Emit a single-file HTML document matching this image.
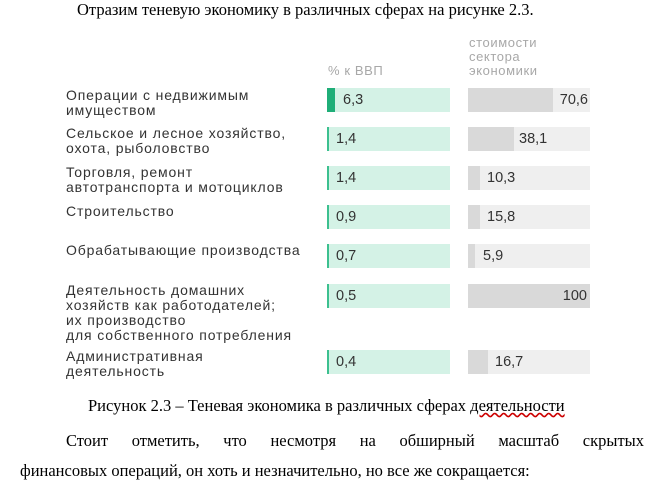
<!DOCTYPE html>
<html><head><meta charset="utf-8"><style>
body{margin:0;width:666px;height:479px;background:#fff;position:relative;overflow:hidden;font-family:"Liberation Sans",sans-serif}
.a{position:absolute}
.t{font-family:"Liberation Serif",serif;font-size:16.5px;color:#000;white-space:nowrap}
.lbl{position:absolute;left:66px;font-size:14px;line-height:15px;color:#333;letter-spacing:0.85px;white-space:nowrap}
.g{position:absolute;left:327px;width:123px;height:24px;background:#d4f2e6}
.g i{position:absolute;left:0;top:0;bottom:0;width:2px;background:#3cc08f}
.g span,.r span{position:absolute;top:4px;font-size:14.5px;color:#333}
.r{position:absolute;left:468px;width:122px;height:24px;background:#efefef}
.r b{position:absolute;left:0;top:0;bottom:0;background:#d9d9d9}
.h{position:absolute;font-size:13px;color:#a8a8a8;line-height:14px;letter-spacing:0.6px}
</style></head><body>
<div class="a t" style="left:77px;top:0px">Отразим теневую экономику в различных сферах на рисунке 2.3.</div>
<div class="h" style="left:328px;top:64px">% к ВВП</div>
<div class="h" style="left:469px;top:36px">стоимости<br>сектора<br>экономики</div>

<div class="lbl" style="top:88px">Операции с недвижимым<br>имуществом</div>
<div class="g" style="top:88px"><i style="width:8px;background:#1fae78"></i><span style="left:16px">6,3</span></div>
<div class="r" style="top:88px"><b style="width:85px"></b><span style="right:2px">70,6</span></div>

<div class="lbl" style="top:126px">Сельское и лесное хозяйство,<br>охота, рыболовство</div>
<div class="g" style="top:127px"><i></i><span style="left:9px">1,4</span></div>
<div class="r" style="top:127px"><b style="width:46px"></b><span style="left:51px">38,1</span></div>

<div class="lbl" style="top:165px">Торговля, ремонт<br>автотранспорта и мотоциклов</div>
<div class="g" style="top:166px"><i></i><span style="left:9px">1,4</span></div>
<div class="r" style="top:166px"><b style="width:12px"></b><span style="left:19px">10,3</span></div>

<div class="lbl" style="top:204px">Строительство</div>
<div class="g" style="top:205px"><i></i><span style="left:9px">0,9</span></div>
<div class="r" style="top:205px"><b style="width:12px"></b><span style="left:19px">15,8</span></div>

<div class="lbl" style="top:243px">Обрабатывающие производства</div>
<div class="g" style="top:244px"><i></i><span style="left:9px">0,7</span></div>
<div class="r" style="top:244px"><b style="width:7px"></b><span style="left:15px">5,9</span></div>

<div class="lbl" style="top:283px">Деятельность домашних<br>хозяйств как работодателей;<br>их производство<br>для собственного потребления</div>
<div class="g" style="top:284px"><i></i><span style="left:9px">0,5</span></div>
<div class="r" style="top:284px"><b style="width:122px"></b><span style="right:3px">100</span></div>

<div class="lbl" style="top:349px">Административная<br>деятельность</div>
<div class="g" style="top:350px"><i></i><span style="left:9px">0,4</span></div>
<div class="r" style="top:350px"><b style="width:20px"></b><span style="left:27px">16,7</span></div>

<div class="a t" style="left:88px;top:396px">Рисунок 2.3 – Теневая экономика в различных сферах <span style="text-decoration:underline wavy #c00">деятельности</span></div>
<div class="a t" style="left:20px;top:431px;width:624px;text-align:justify;text-align-last:justify;padding-left:46px;box-sizing:border-box">Стоит отметить, что несмотря на обширный масштаб скрытых</div>
<div class="a t" style="left:20px;top:461px">финансовых операций, он хоть и незначительно, но все же сокращается:</div>
</body></html>
